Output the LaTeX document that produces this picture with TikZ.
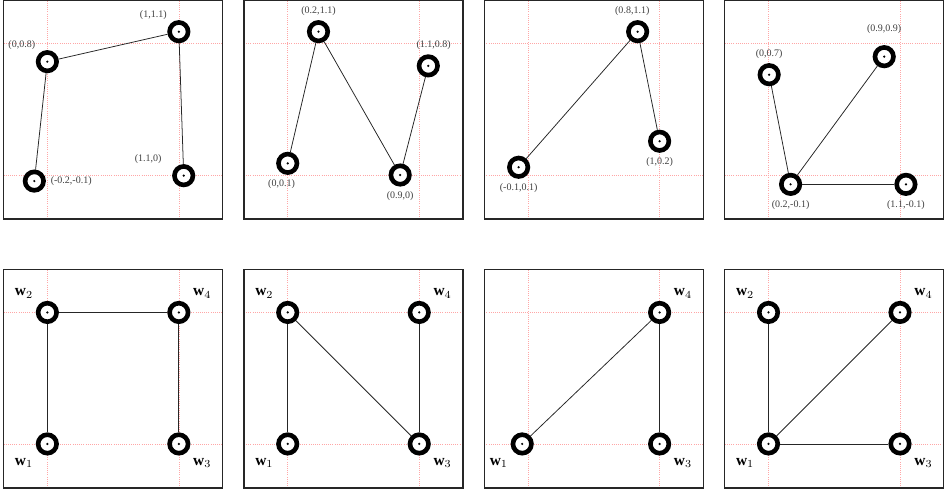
\documentclass[tikz,border=0pt]{standalone}
\usepackage{amsmath, amssymb}
\usepackage{fontspec}
\setmainfont{Liberation Serif}
\usepackage{xcolor}
\usepackage{tikz}
\usetikzlibrary{positioning,calc}

\begin{document}
\begin{tikzpicture}[x=3cm, y=3cm,
    vtx/.style={circle, draw, fill=white, line width=3pt, minimum size=12pt, inner sep=0pt,
        path picture={\fill[black] (path picture bounding box.center) circle (0.8pt);}},
    lbl/.style={font=\fontsize{6.5}{7}\selectfont, text=black!75, inner sep=1pt},
    wlbl/.style={font=\fontsize{10}{11}\selectfont, inner sep=1pt},
    every label/.style={label distance=2pt},
    edge/.style={line width=0.5pt, black!85},
    frame/.style={line width=0.9pt, black!85},
    guide/.style={red!35, densely dotted, line width=0.4pt}
]
\useasboundingbox (-0.360,-2.418) rectangle (6.849,1.331);

% frames and guide lines
\foreach \dx in {0,1.828,3.656,5.484} {
  \foreach \dy in {0,-2.045} {
    \begin{scope}[shift={(\dx,\dy)}]
      \draw[guide] (-0.333,0) -- (1.333,0);
      \draw[guide] (-0.333,1) -- (1.333,1);
      \draw[guide] (0,-0.335) -- (0,1.325);
      \draw[guide] (1,-0.335) -- (1,1.325);
      \draw[frame] (-0.333,-0.335) rectangle (1.333,1.325);
    \end{scope}
  }
}

% top row, panel 1
\begin{scope}[shift={(0,0)}]
\node[vtx, label={[lbl]above left:(0,0.8)}] (t1a) at (0,0.862) {};
\node[vtx, label={[lbl]above left:(1,1.1)}] (t1b) at (1.0,1.09) {};
\node[vtx, label={[lbl,label distance=2pt]right:(-0.2,-0.1)}] (t1c) at (-0.099,-0.046) {};
\node[vtx, label={[lbl,xshift=-6.5pt]above left:(1.1,0)}] (t1d) at (1.037,-0.005) {};
\draw[edge] (t1c) -- (t1a);
\draw[edge] (t1a) -- (t1b);
\draw[edge] (t1b) -- (t1d);
\end{scope}

% top row, panel 2
\begin{scope}[shift={(1.828,0)}]
\node[vtx, label={[lbl,xshift=-4pt]below:(0,0.1)}] (t2a) at (0,0.089) {};
\node[vtx, label={[lbl]above:(0.2,1.1)}] (t2b) at (0.234,1.09) {};
\node[vtx, label={[lbl]below:(0.9,0)}] (t2c) at (0.855,0) {};
\node[vtx, label={[lbl,xshift=3.5pt]above:(1.1,0.8)}] (t2d) at (1.069,0.83) {};
\draw[edge] (t2a) -- (t2b);
\draw[edge] (t2b) -- (t2c);
\draw[edge] (t2c) -- (t2d);
\end{scope}

% top row, panel 3
\begin{scope}[shift={(3.656,0)}]
\node[vtx, label={[lbl]below:(-0.1,0.1)}] (t3a) at (-0.072,0.059) {};
\node[vtx, label={[lbl,xshift=-3.5pt]above:(0.8,1.1)}] (t3b) at (0.833,1.09) {};
\node[vtx, label={[lbl]below:(1,0.2)}] (t3c) at (1.0,0.257) {};
\draw[edge] (t3a) -- (t3b);
\draw[edge] (t3b) -- (t3c);
\end{scope}

% top row, panel 4
\begin{scope}[shift={(5.484,0)}]
\node[vtx, label={[lbl]above:(0,0.7)}] (t4a) at (0.005,0.763) {};
\node[vtx, label={[lbl,label distance=6pt]above:(0.9,0.9)}] (t4b) at (0.88,0.90) {};
\node[vtx, label={[lbl]below:(0.2,-0.1)}] (t4c) at (0.168,-0.071) {};
\node[vtx, label={[lbl]below:(1.1,-0.1)}] (t4d) at (1.045,-0.071) {};
\draw[edge] (t4a) -- (t4c);
\draw[edge] (t4c) -- (t4b);
\draw[edge] (t4c) -- (t4d);
\end{scope}

% bottom row, panel 1
\begin{scope}[shift={(0,-2.045)}, every label/.style={label distance=4pt}]
\node[vtx, label={[wlbl]below left:$\mathbf{w}_1$}] (b1w1) at (0,0) {};
\node[vtx, label={[wlbl]above left:$\mathbf{w}_2$}] (b1w2) at (0,1) {};
\node[vtx, label={[wlbl]below right:$\mathbf{w}_3$}] (b1w3) at (1,0) {};
\node[vtx, label={[wlbl]above right:$\mathbf{w}_4$}] (b1w4) at (1,1) {};
\draw[edge] (b1w1) -- (b1w2);
\draw[edge] (b1w2) -- (b1w4);
\draw[edge] (b1w4) -- (b1w3);
\end{scope}

% bottom row, panel 2
\begin{scope}[shift={(1.828,-2.045)}, every label/.style={label distance=4pt}]
\node[vtx, label={[wlbl]below left:$\mathbf{w}_1$}] (b2w1) at (0,0) {};
\node[vtx, label={[wlbl]above left:$\mathbf{w}_2$}] (b2w2) at (0,1) {};
\node[vtx, label={[wlbl]below right:$\mathbf{w}_3$}] (b2w3) at (1,0) {};
\node[vtx, label={[wlbl]above right:$\mathbf{w}_4$}] (b2w4) at (1,1) {};
\draw[edge] (b2w1) -- (b2w2);
\draw[edge] (b2w2) -- (b2w3);
\draw[edge] (b2w3) -- (b2w4);
\end{scope}

% bottom row, panel 3 (no w2)
\begin{scope}[shift={(3.656,-2.045)}, every label/.style={label distance=4pt}]
\node[vtx, label={[wlbl]below left:$\mathbf{w}_1$}] (b3w1) at (-0.045,0) {};
\node[vtx, label={[wlbl]below right:$\mathbf{w}_3$}] (b3w3) at (1,0) {};
\node[vtx, label={[wlbl]above right:$\mathbf{w}_4$}] (b3w4) at (1,1) {};
\draw[edge] (b3w1) -- (b3w4);
\draw[edge] (b3w4) -- (b3w3);
\end{scope}

% bottom row, panel 4
\begin{scope}[shift={(5.484,-2.045)}, every label/.style={label distance=4pt}]
\node[vtx, label={[wlbl]below left:$\mathbf{w}_1$}] (b4w1) at (0,0) {};
\node[vtx, label={[wlbl]above left:$\mathbf{w}_2$}] (b4w2) at (0,1) {};
\node[vtx, label={[wlbl]below right:$\mathbf{w}_3$}] (b4w3) at (1,0) {};
\node[vtx, label={[wlbl]above right:$\mathbf{w}_4$}] (b4w4) at (1,1) {};
\draw[edge] (b4w1) -- (b4w2);
\draw[edge] (b4w1) -- (b4w4);
\draw[edge] (b4w1) -- (b4w3);
\end{scope}

\end{tikzpicture}
\end{document}
